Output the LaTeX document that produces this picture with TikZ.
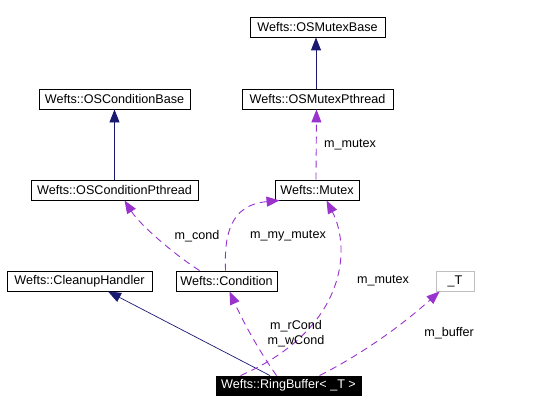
\documentclass[tikz,border=0pt]{standalone}
\usepackage{fontspec}
\setmainfont{Liberation Sans}
\usetikzlibrary{arrows.meta}
\definecolor{inhcol}{HTML}{191970}
\definecolor{depcol}{HTML}{9A32CD}
\begin{document}
\begin{tikzpicture}[x=1pt,y=-1pt,
  cls/.style={draw=black, line width=0.9pt, fill=white, inner sep=0pt, minimum height=20pt, font=\fontsize{12.6}{14}\selectfont},
  lbl/.style={inner sep=0pt, font=\fontsize{12.6}{15}\selectfont, align=center},
  inh/.style={draw=inhcol, line width=0.9pt, -{Triangle[width=10pt,length=13pt,fill=inhcol]}},
  dep/.style={draw=depcol, line width=0.9pt, dash pattern=on 7pt off 5pt, -{Triangle[width=10pt,length=13pt,fill=depcol]}}]
\useasboundingbox (0,0) rectangle (537,412);
\node[cls, minimum width=135pt] (mb) at (317.5,27) {Wefts::OSMutexBase};
\node[cls, minimum width=151pt] (ocb) at (114.5,99) {Wefts::OSConditionBase};
\node[cls, minimum width=151pt] (mp) at (317.5,99) {Wefts::OSMutexPthread};
\node[cls, minimum width=167pt] (ocp) at (114.5,190) {Wefts::OSConditionPthread};
\node[cls, minimum width=84pt] (mx) at (317,190) {Wefts::Mutex};
\node[cls, minimum width=145pt] (ch) at (79.5,281) {Wefts::CleanupHandler};
\node[cls, minimum width=101pt] (cd) at (226.5,281) {Wefts::Condition};
\node[cls, draw=black!25, minimum width=38pt] (t) at (455,281) {\_T};
\node[cls, fill=black, text=white, minimum width=145pt, minimum height=19pt] (rb) at (288.5,385.5) {Wefts::RingBuffer<~\_T~>};
% inheritance
\draw[inh] ([xshift=-1.5pt]mp.north) -- ([xshift=-1.5pt]mb.south);
\draw[inh] (ocp.north) -- (ocb.south);
\draw[inh, line width=0.7pt] ([xshift=-18.5pt]rb.north) -- ([xshift=28.5pt]ch.south);
% dependencies
\draw[dep] ([xshift=-1pt]mx.north) -- ([xshift=-1pt]mp.south);
\draw[dep] ([xshift=24pt]cd.north west) .. controls (175,255) and (140,225) .. ([xshift=94pt]ocp.south west);
\draw[dep] ([xshift=50pt]cd.north west) .. controls (224,235) and (230,205) .. ([xshift=5pt]mx.south west);
\draw[dep] ([xshift=25pt]rb.north west) .. controls (345,330) and (352,250) .. ([xshift=52pt]mx.south west);
\draw[dep] ([xshift=61pt]rb.north west) .. controls (255,345) and (240,315) .. ([xshift=54pt]cd.south west);
\draw[dep] ([xshift=104pt]rb.north west) .. controls (370,350) and (410,318) .. ([xshift=4pt]t.south west);
% labels
\node[lbl] (l1) at (350,145) {m\_mutex};
\node[lbl] (l2) at (197,236) {m\_cond};
\node[lbl] (l3) at (288,236) {m\_my\_mutex};
\node[lbl] (l4) at (383,281) {m\_mutex};
\node[lbl] (l5) at (296,334) {m\_rCond\\m\_wCond};
\node[lbl] (l6) at (449,333) {m\_buffer};
\end{tikzpicture}
\end{document}
